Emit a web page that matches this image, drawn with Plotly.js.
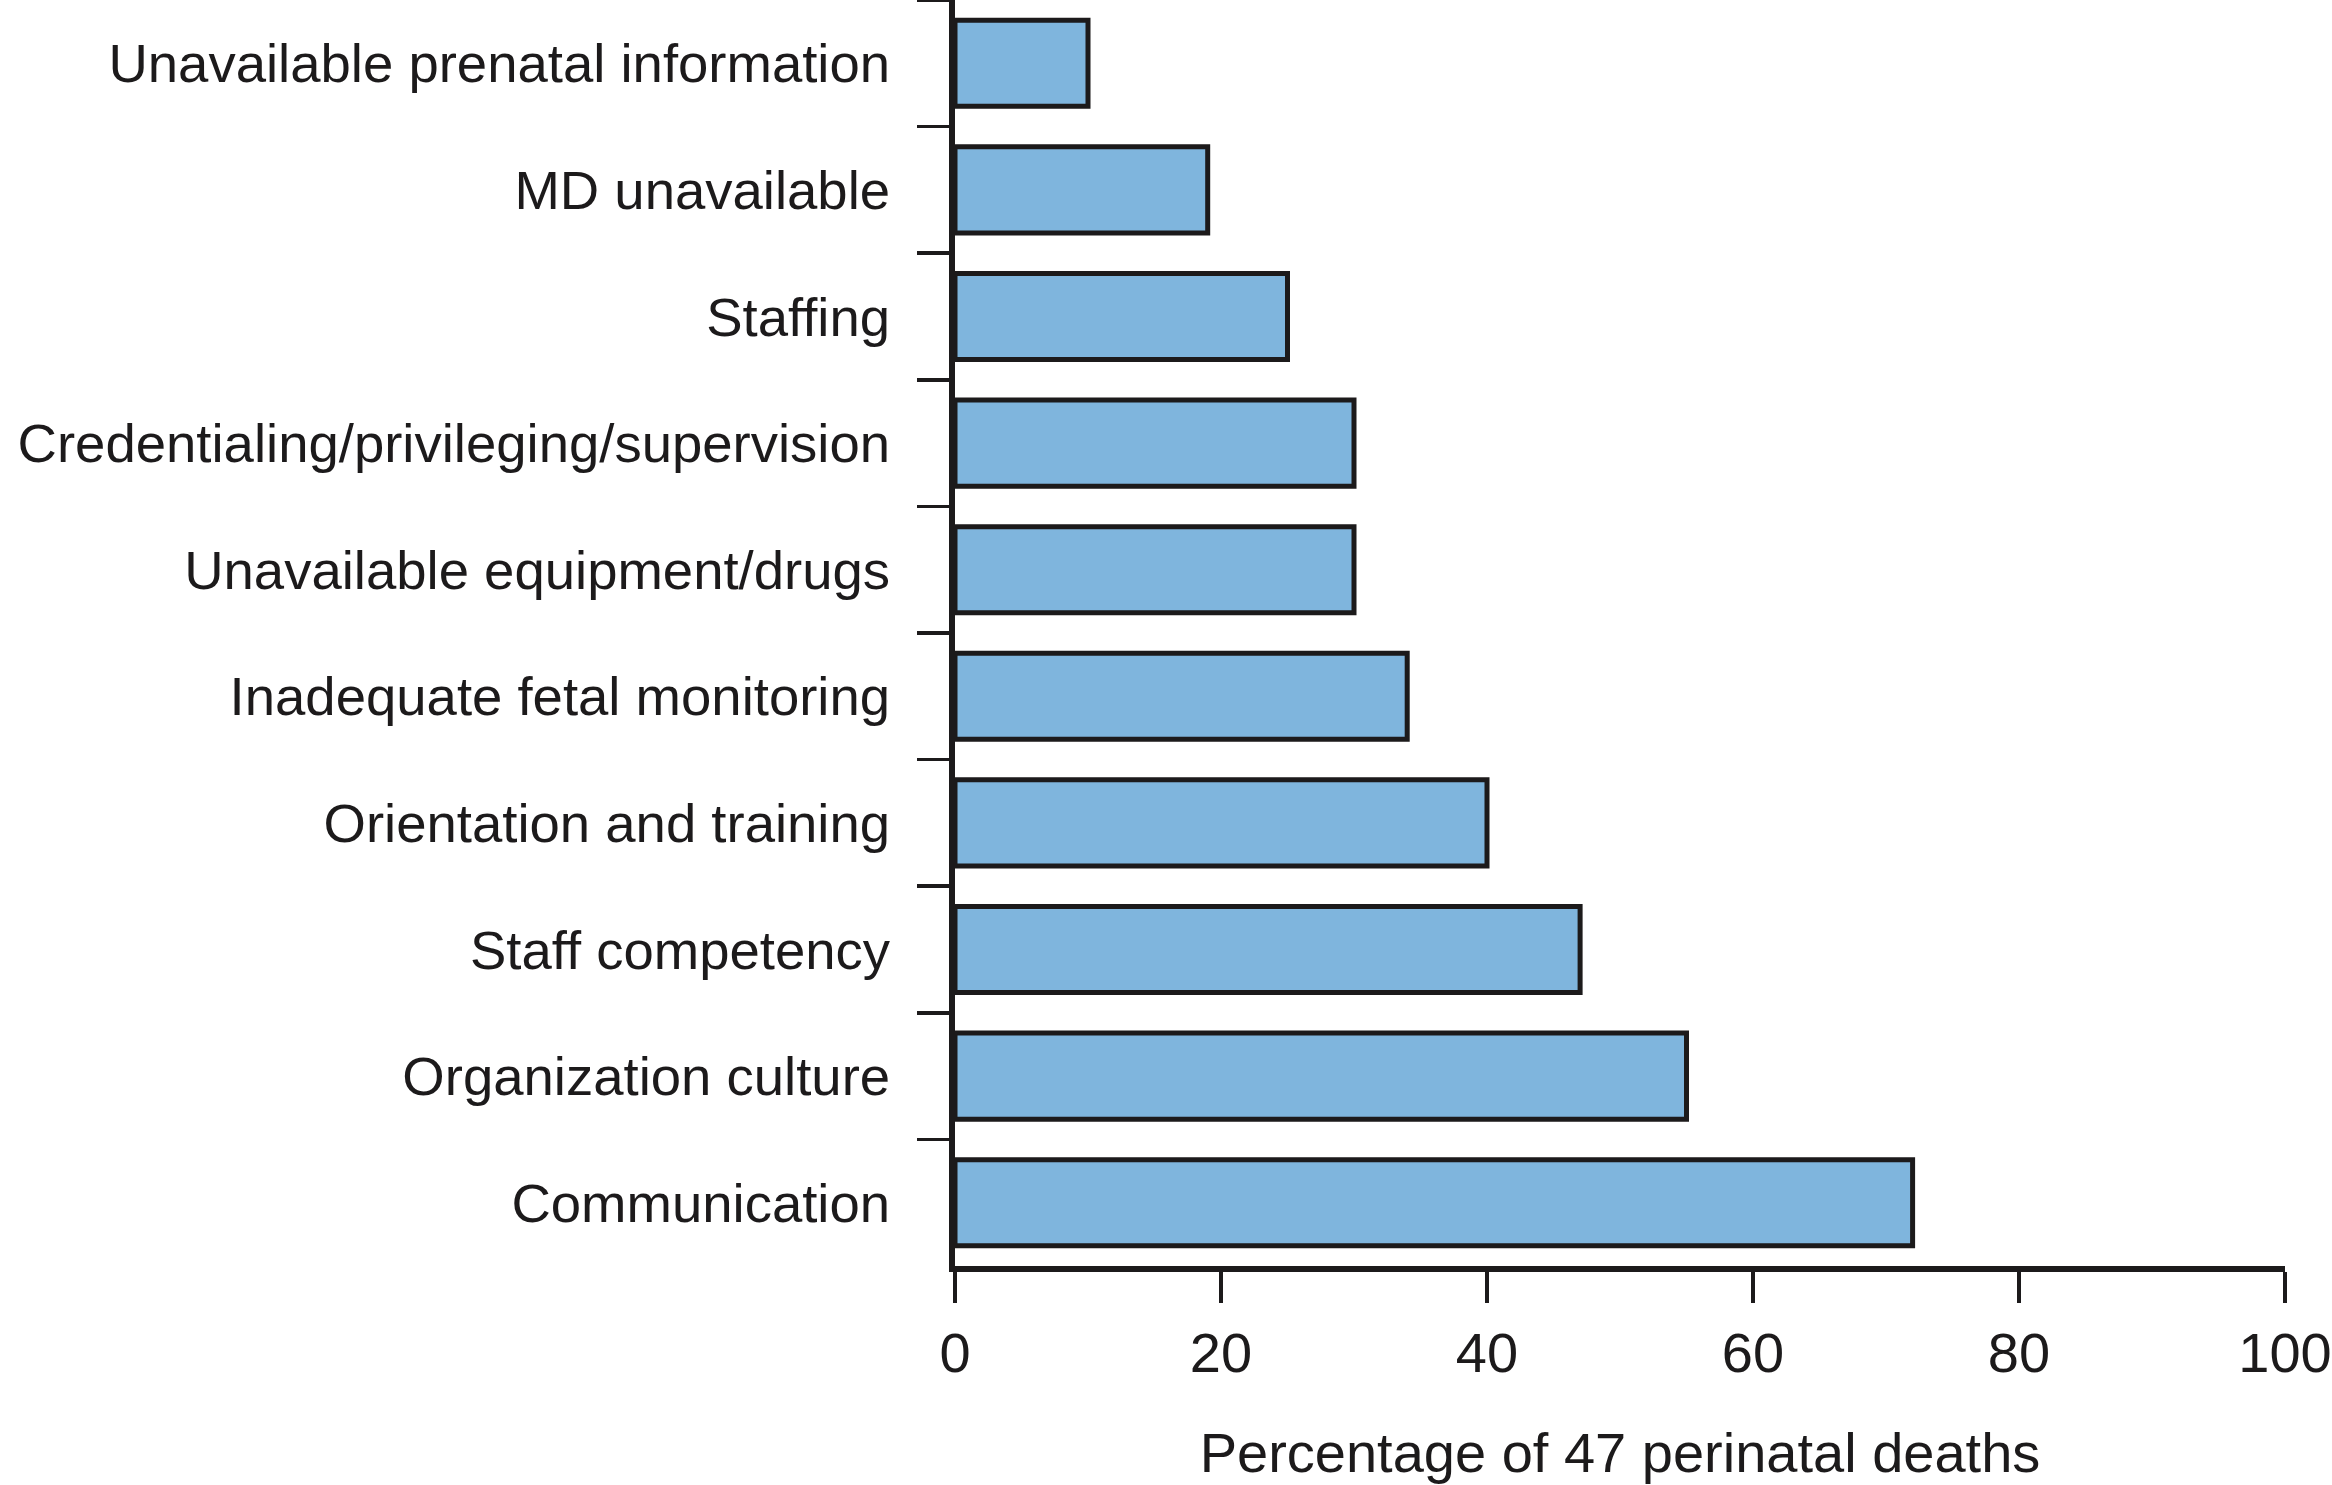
<!DOCTYPE html>
<html>
<head>
<meta charset="utf-8">
<script src="https://cdn.plot.ly/plotly-3.0.1.min.js"></script>
<style>html,body{margin:0;padding:0;background:#fff;}#chart{width:2332px;height:1485px;}</style>
</head>
<body>
<div id="chart"></div>
<script>
const categories = [
  "Unavailable prenatal information",
  "MD unavailable",
  "Staffing",
  "Credentialing/privileging/supervision",
  "Unavailable equipment/drugs",
  "Inadequate fetal monitoring",
  "Orientation and training",
  "Staff competency",
  "Organization culture",
  "Communication"
];
const percentages = [10, 19, 25, 30, 30, 34, 40, 47, 55, 72];
const xTickValues = [0, 20, 40, 60, 80, 100];
const xAxisTitle = "Percentage of 47 perinatal deaths";

const font = "Liberation Sans, Arial, Helvetica, sans-serif";
const ink = "#1c1a1b";

const trace = {
  type: "bar",
  orientation: "h",
  y: categories,
  x: percentages,
  width: 0.68,
  marker: { color: "#7fb5dd", line: { color: ink, width: 5 } },
  hoverinfo: "x+y"
};

const layout = {
  width: 2332,
  height: 1485,
  margin: { l: 955, r: 47, t: 0, b: 219, pad: 0 },
  paper_bgcolor: "#ffffff",
  plot_bgcolor: "#ffffff",
  showlegend: false,
  font: { family: font, size: 56, color: ink },
  xaxis: {
    range: [0, 100],
    tickvals: xTickValues,
    ticktext: xTickValues.map(String),
    ticks: "outside",
    ticklen: 31,
    tickwidth: 3.5,
    tickcolor: ink,
    showline: true,
    linecolor: ink,
    linewidth: 6,
    showgrid: false,
    zeroline: false,
    tickfont: { family: font, size: 56, color: ink },
    ticklabelstandoff: 2,
    title: { text: xAxisTitle, font: { family: font, size: 56, color: ink }, standoff: 52 },
    fixedrange: true
  },
  yaxis: {
    type: "category",
    categoryorder: "array",
    categoryarray: categories,
    range: [9.5, -0.5],
    ticks: "outside",
    tickson: "boundaries",
    ticklen: 32,
    tickwidth: 3.5,
    tickcolor: ink,
    showline: true,
    linecolor: ink,
    linewidth: 6,
    showgrid: false,
    zeroline: false,
    tickfont: { family: font, size: 54.5, color: ink },
    ticklabelstandoff: 48,
    fixedrange: true
  }
};

Plotly.newPlot("chart", [trace], layout, { displayModeBar: false, staticPlot: true });
</script>
</body>
</html>
